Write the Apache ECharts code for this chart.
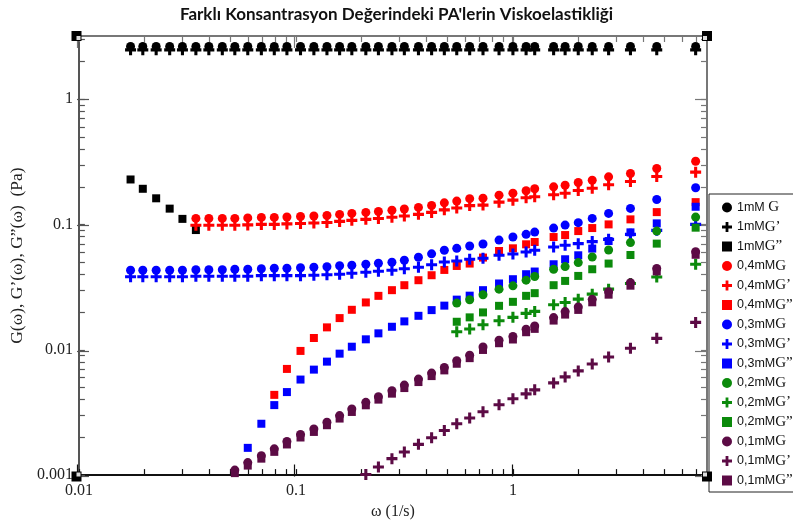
<!DOCTYPE html>
<html><head><meta charset="utf-8">
<script src="https://cdn.jsdelivr.net/npm/echarts@6/dist/echarts.min.js"></script>
<style>html,body{margin:0;padding:0;background:#fff}#c{width:793px;height:525px}</style>
</head><body><div id="c"></div>
<script>
// angular frequency ω (1/s)
const omega = [0.0173,0.0197,0.0227,0.0262,0.0300,0.0346,0.0397,0.0458,0.0523,0.0600,0.0693,0.0795,0.0909,0.105,0.121,0.139,0.159,0.181,0.210,0.240,0.277,0.316,0.367,0.422,0.483,0.551,0.632,0.728,0.863,1.00,1.15,1.26,1.54,1.74,2.00,2.32,2.76,3.48,4.60,6.95];

// 1 mM (start at omega index 0)
const g_1 = [2.64,2.64,2.64,2.64,2.64,2.64,2.64,2.64,2.64,2.64,2.64,2.64,2.64,2.64,2.64,2.64,2.64,2.64,2.64,2.64,2.64,2.64,2.64,2.64,2.64,2.64,2.64,2.64,2.64,2.64,2.64,2.64,2.64,2.64,2.64,2.64,2.64,2.64,2.64,2.64];
const gp_1 = [2.48,2.48,2.48,2.48,2.48,2.48,2.48,2.48,2.48,2.48,2.48,2.48,2.48,2.48,2.48,2.48,2.48,2.48,2.48,2.48,2.48,2.48,2.48,2.48,2.48,2.48,2.48,2.48,2.48,2.48,2.48,2.48,2.48,2.48,2.48,2.48,2.48,2.48,2.48,2.48];
const gpp_1 = [0.229,0.193,0.162,0.134,0.111,0.0904];

// 0,4 mM
const g_04 = [0.112,0.112,0.112,0.112,0.113,0.114,0.114,0.115,0.116,0.117,0.118,0.1205,0.1227,0.125,0.127,0.130,0.133,0.137,0.142,0.149,0.154,0.161,0.1625,0.1716,0.178,0.186,0.193,0.200,0.206,0.2166,0.226,0.2404,0.2554,0.280,0.320];
const gp_04 = [0.0986,0.0986,0.0986,0.0986,0.0994,0.1003,0.1003,0.1012,0.102,0.103,0.1038,0.106,0.108,0.110,0.1118,0.1144,0.117,0.1206,0.125,0.131,0.1355,0.1417,0.143,0.151,0.1566,0.1637,0.1668,0.1728,0.178,0.1871,0.195,0.2077,0.2207,0.242,0.262];
const gpp_04 = [0.00437,0.00704,0.0098,0.01243,0.01511,0.01792,0.02087,0.02389,0.02697,0.02994,0.0328,0.03595,0.0394,0.04343,0.04671,0.04882,0.05451,0.0615,0.06462,0.06955,0.07254,0.0795,0.08246,0.08873,0.09375,0.1003,0.110,0.1257,0.151];

// 0,3 mM
const g_03 = [0.0432,0.0432,0.0432,0.0432,0.0432,0.0436,0.0436,0.0436,0.0440,0.0440,0.0444,0.0448,0.0448,0.0452,0.0456,0.0460,0.0469,0.0473,0.0482,0.0491,0.0500,0.0519,0.0548,0.0584,0.0623,0.0646,0.0674,0.0699,0.0752,0.0795,0.0835,0.0871,0.0937,0.0990,0.1035,0.1120,0.1227,0.1345,0.1586,0.1965];
const gp_03 = [0.0383,0.0383,0.0383,0.0383,0.0383,0.0387,0.0387,0.0387,0.0387,0.0387,0.0391,0.0391,0.0391,0.0391,0.0394,0.0398,0.0401,0.0409,0.0416,0.0424,0.0432,0.0444,0.0456,0.0478,0.0503,0.0512,0.0528,0.0538,0.0568,0.0582,0.0604,0.0623,0.0662,0.0683,0.0704,0.0731,0.0762,0.0835,0.0899,0.1003];
const gpp_03 = [0.00165,0.00257,0.00362,0.0046,0.00579,0.00695,0.00805,0.00932,0.01059,0.01213,0.01354,0.01528,0.01687,0.01869,0.02075,0.02253,0.02516,0.02706,0.02994,0.03385,0.03662,0.04014,0.04217,0.0482,0.05283,0.05684,0.06427,0.07387,0.08663,0.1022,0.1387];

// 0,2 mM
const g_02 = [0.0236,0.0251,0.0275,0.0305,0.0324,0.0360,0.0385,0.0440,0.0462,0.0497,0.0551,0.0626,0.0718,0.0887,0.1147];
const gp_02 = [0.01394,0.01465,0.01585,0.01706,0.01816,0.01953,0.02026,0.02287,0.02389,0.02539,0.02782,0.0305,0.03385,0.03819,0.0482];
const gpp_02 = [0.01675,0.01816,0.01989,0.02245,0.02416,0.02697,0.02834,0.0328,0.03549,0.0389,0.04398,0.04882,0.05716,0.07044,0.09443];

// 0,1 mM
const g_01 = [0.001096,0.001258,0.00143,0.00162,0.001855,0.002109,0.002336,0.002642,0.002987,0.003372,0.003811,0.00423,0.004722,0.005232,0.005841,0.00652,0.007239,0.00818,0.009066,0.01054,0.01193,0.01277,0.0146,0.01553,0.01809,0.02019,0.02201,0.0253,0.02912,0.03435,0.04463,0.06062];
const gp_01 = [0.00101,0.001162,0.001353,0.00153,0.001759,0.001988,0.002273,0.00257,0.002853,0.003202,0.00364,0.004063,0.004453,0.004792,0.005447,0.006081,0.006788,0.007717,0.008771,0.01029,0.01235,0.01656];
const gpp_01 = [0.001037,0.001191,0.001353,0.001533,0.001756,0.001996,0.002211,0.002501,0.002827,0.003192,0.003607,0.004004,0.004469,0.004952,0.005529,0.006171,0.006852,0.007742,0.008581,0.009976,0.01129,0.01209,0.01382,0.0147,0.01712,0.01911,0.02083,0.02395,0.02756,0.03251,0.04224,0.05738];

// legend names
const names = ["1mM G","1mMG'","1mMG''","0,4mMG","0,4mMG'","0,4mMG''","0,3mMG","0,3mMG'","0,3mMG''","0,2mMG","0,2mMG'","0,2mMG''","0,1mMG","0,1mMG'","0,1mMG''"];
// first omega index of each series
const starts = [0,0,0, 5,5,11, 0,0,9, 25,25,25, 8,18,8];
const values = [g_1,gp_1,gpp_1, g_04,gp_04,gpp_04, g_03,gp_03,gpp_03, g_02,gp_02,gpp_02, g_01,gp_01,gpp_01];

// axis ranges and tick positions
const xMin = 0.01, xMax = 7.84, yMin = 0.001, yMax = 3.2;
const xTicks = [0.01,0.02,0.03,0.04,0.05,0.06,0.07,0.08,0.09,0.1,0.2,0.3,0.4,0.5,0.6,0.7,0.8,0.9,1,2,3,4,5,6,7];
const yTicks = [0.001,0.002,0.003,0.004,0.005,0.006,0.007,0.008,0.009,0.01,0.02,0.03,0.04,0.05,0.06,0.07,0.08,0.09,0.1,0.2,0.3,0.4,0.5,0.6,0.7,0.8,0.9,1,2,3];
const xMajor = [0.01,0.1,1];
const yMajor = [0.001,0.01,0.1,1];

const colors = ['#000000','#ff0000','#0000ff','#0b8a0b','#5c0b45'];
const PLUS = 'path://M3.6,0H6.4V3.6H10V6.4H6.4V10H3.6V6.4H0V3.6H3.6Z';
const shapes = ['circle', PLUS, 'rect'];
const sizes = [9, 11, 8];

const series = values.map((vals, k) => ({
  name: names[k],
  type: 'scatter',
  xAxisIndex: 0, yAxisIndex: 0,
  symbol: shapes[k % 3],
  symbolSize: sizes[k % 3],
  itemStyle: { color: colors[Math.floor(k / 3)], opacity: 1 },
  emphasis: { disabled: true },
  data: vals.map((v, i) => [omega[starts[k] + i], v])
}));

const isPow = v => { const l = Math.log10(v); return Math.abs(l - Math.round(l)) < 1e-6; };
const fmtPow = v => isPow(v) ? String(Number(v.toPrecision(3))) : '';
const serif = "'Liberation Serif', 'DejaVu Serif', serif";

function mkAxis(dim, pos, min, max, ticks, lineColor, withLabel) {
  return {
    type: 'log', logBase: 10, gridIndex: 0, position: pos, min: min, max: max,
    splitLine: { show: false },
    axisLine: { show: true, onZero: false, lineStyle: { color: lineColor, width: 2 } },
    axisTick: { show: true, inside: true, length: 6, customValues: ticks, lineStyle: { color: lineColor, width: 1.2 } },
    axisLabel: withLabel ? { show: true, formatter: fmtPow, fontFamily: serif, fontSize: 16, color: '#222', margin: dim === 'x' ? 8 : 6, showMaxLabel: false } : { show: false }
  };
}
// long ticks at the decades, on an overlaid second grid of identical size
function mkMajor(pos, min, max, ticks, lineColor) {
  return {
    type: 'log', logBase: 10, gridIndex: 1, position: pos, min: min, max: max,
    splitLine: { show: false },
    axisLine: { show: false, onZero: false },
    axisTick: { show: true, inside: true, length: 12, customValues: ticks, lineStyle: { color: lineColor, width: 1.2 } },
    axisLabel: { show: false }
  };
}

const xA = mkAxis('x', 'bottom', xMin, xMax, xTicks, '#111', true);
xA.name = 'ω (1/s)';
xA.nameLocation = 'middle';
xA.nameGap = 27;
xA.nameTextStyle = { fontFamily: serif, fontSize: 16, color: '#222' };
const xT = mkAxis('x', 'top', xMin, xMax, xTicks, '#777', false);
const yA = mkAxis('y', 'left', yMin, yMax, yTicks, '#555', true);
yA.name = 'G(ω), G’(ω), G”(ω)  (Pa)';
yA.nameLocation = 'middle';
yA.nameGap = 49;
yA.nameTextStyle = { fontFamily: serif, fontSize: 17.5, color: '#222' };
const yR = mkAxis('y', 'right', yMin, yMax, yTicks, '#777', false);

const xB2 = mkMajor('bottom', xMin, xMax, xMajor, '#111');
const xT2 = mkMajor('top', xMin, xMax, xMajor, '#777');
const yL2 = mkMajor('left', yMin, yMax, yMajor, '#555');
const yR2 = mkMajor('right', yMin, yMax, yMajor, '#777');

function cornerRect(cx, cy, dx, dy) {
  return [
    { type: 'rect', shape: { x: cx - 5, y: cy - 5, width: 10, height: 10 }, style: { fill: '#000' }, z: 100 },
    { type: 'rect', shape: { x: cx + dx - 2, y: cy + dy - 2, width: 4, height: 4 }, style: { fill: '#ddd' }, z: 101 }
  ];
}

const gridBox = { left: 77, right: 86, top: 36, bottom: 48.5, containLabel: false };

const chart = echarts.init(document.getElementById('c'), null, { renderer: 'canvas' });
chart.setOption({
  animation: false,
  backgroundColor: '#fff',
  title: {
    text: 'Farklı Konsantrasyon Değerindeki PA\'lerin Viskoelastikliği',
    left: 'center', top: 1,
    textStyle: { fontFamily: 'Lato, "Open Sans", sans-serif', fontWeight: 'bold', fontSize: 17, color: '#111' }
  },
  grid: [Object.assign({}, gridBox), Object.assign({}, gridBox)],
  xAxis: [xA, xT, xB2, xT2],
  yAxis: [yA, yR, yL2, yR2],
  legend: {
    orient: 'vertical', left: 709, top: 194,
    padding: [6, 120, 4, 13],
    itemWidth: 10, itemHeight: 10, itemGap: 4.5,
    borderColor: '#222', borderWidth: 1,
    selectedMode: false,
    data: names,
    formatter: function (name) {
      const i = name.lastIndexOf('G');
      const head = name.slice(0, i);
      const tail = name.slice(i).replace("''", '”').replace("'", '’');
      return '{a|' + head + '}{b|' + tail + '}';
    },
    textStyle: {
      lineHeight: 14,
      rich: {
        a: { fontFamily: '"Liberation Sans", Arial, sans-serif', fontSize: 12.5, color: '#111', lineHeight: 14 },
        b: { fontFamily: serif, fontSize: 15, color: '#111', lineHeight: 14 }
      }
    }
  },
  graphic: [].concat(
    cornerRect(76.5, 36, 2, 2),
    cornerRect(707, 36, -2, 2),
    cornerRect(76.5, 476.5, 2, -2),
    cornerRect(707, 476.5, -2, -2)
  ),
  series: series
});
</script>
</body></html>
